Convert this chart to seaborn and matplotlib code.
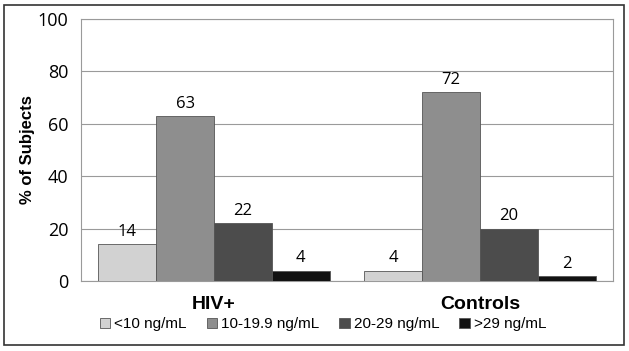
import numpy as np
import pandas as pd
import matplotlib
matplotlib.use("Agg")
import matplotlib.pyplot as plt
import seaborn as sns
from matplotlib.patches import Rectangle

groups = ["HIV+", "Controls"]
levels = ["<10 ng/mL", "10-19.9 ng/mL", "20-29 ng/mL", ">29 ng/mL"]
hiv_pct = [14, 63, 22, 4]
control_pct = [4, 72, 20, 2]
colors = ["#d2d2d2", "#8e8e8e", "#4c4c4c", "#121212"]

df = pd.DataFrame({
    "group": np.repeat(groups, len(levels)),
    "level": levels * 2,
    "pct": hiv_pct + control_pct,
})

sns.set_theme(style="white", rc={"text.color": "black",
                                 "axes.labelcolor": "black",
                                 "xtick.color": "black",
                                 "ytick.color": "black"})
plt.rcParams["font.family"] = ["Liberation Sans", "DejaVu Sans"]

fig = plt.figure(figsize=(6.29, 3.51), dpi=100)
ax = fig.add_axes([81 / 629, 1 - 281 / 351, 532 / 629, 262 / 351])

sns.barplot(data=df, x="group", y="pct", hue="level", hue_order=levels,
            palette=colors, width=0.87, ax=ax, edgecolor="#555555",
            linewidth=0.6, legend=True, zorder=3)

for cont in ax.containers:
    ax.bar_label(cont, fmt="%d", padding=3, fontsize=12, color="black",
                 family=["Open Sans", "DejaVu Sans"])

ax.set_ylim(0, 100)
ax.set_yticks(range(0, 101, 20))
ax.yaxis.grid(True, color="#9a9a9a", linewidth=0.8, zorder=0)
ax.set_axisbelow(True)
for s in ax.spines.values():
    s.set_color("#9a9a9a")
    s.set_linewidth(0.8)
ax.tick_params(axis="y", labelsize=13, length=0, pad=9)
ax.tick_params(axis="x", labelsize=14, length=0, pad=11)
for t in ax.get_xticklabels():
    t.set_fontweight("bold")
for t in ax.get_yticklabels():
    t.set_family(["Open Sans", "DejaVu Sans"])
ax.set_xlabel("")
ax.set_ylabel("% of Subjects", fontsize=12, fontweight="bold", labelpad=2)

handles, labels = ax.get_legend_handles_labels()
ax.legend(handles, labels, loc="center", bbox_to_anchor=(0.455, -0.165),
          ncol=4, frameon=False, fontsize=11, handlelength=0.7,
          handleheight=0.7, handletextpad=0.25, columnspacing=1.3)

# outer frame around the chart
fig.patches.append(Rectangle((4 / 629, 6 / 351), 620 / 629, 340 / 351,
                             transform=fig.transFigure, fill=False,
                             edgecolor="#333333", linewidth=1.2))

fig.savefig("out.png", dpi=100)
